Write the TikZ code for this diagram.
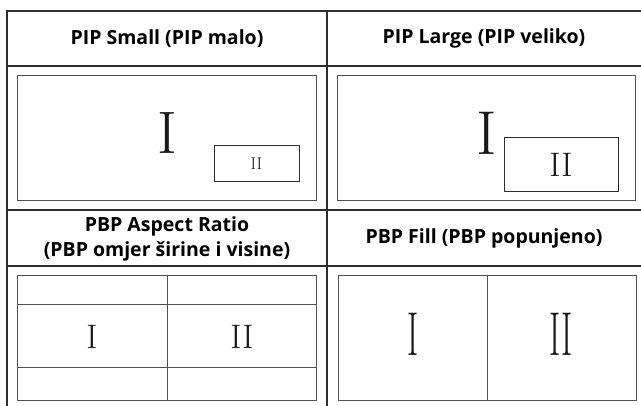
\documentclass[tikz,border=0pt]{standalone}
\usepackage{fontspec}
\setmainfont{Latin Modern Roman}
\newfontfamily\hdfont{Open Sans}
\definecolor{gridc}{HTML}{2E2E2E}
\definecolor{framec}{HTML}{505050}
\begin{document}
\begin{tikzpicture}[x=1pt,y=-1pt,
  grid/.style={draw=gridc,line width=2pt},
  frame/.style={draw=framec,line width=1pt},
  subbox/.style={draw=gridc,line width=1pt},
  head/.style={font=\hdfont\bfseries\fontsize{19.5}{25}\selectfont,align=center,text=black},
  numeral/.style={font=\fontsize{#1}{#1}\selectfont,inner sep=0pt,text=black!90}]
\useasboundingbox (0,0) rectangle (641,406);
% table grid
\draw[grid] (7,11) -- (641,11);
\draw[grid] (7,66) -- (641,66);
\draw[grid] (7,210) -- (641,210);
\draw[grid] (7,266) -- (641,266);
\draw[grid] (7,10) -- (7,406);
\draw[grid] (327,10) -- (327,406);
% headers
\node[head] (h1) at (167,38.5) {PIP Small (PIP malo)};
\node[head] (h2) at (484,38.5) {PIP Large (PIP veliko)};
\node[head] (h3) at (167,238.5) {PBP Aspect Ratio\\(PBP omjer širine i visine)};
\node[head] (h4) at (484,238) {PBP Fill (PBP popunjeno)};
% PIP small
\draw[frame] (17,76) rectangle (316,201);
\node[numeral=60] (s1) at (167,133) {I};
\draw[subbox] (214,146) rectangle (299,182);
\node[numeral=17] (s2) at (256.5,164) {II};
% PIP large
\draw[frame] (337,76) rectangle (635,201);
\node[numeral=62] (l1) at (487,133) {I};
\draw[subbox] (504,138) rectangle (618,192);
\node[numeral=34] (l2) at (561,165) {II};
% PBP aspect
\draw[frame] (17,276) rectangle (316,401);
\draw[frame] (167,276) -- (167,401);
\draw[frame] (17,305) -- (316,305);
\draw[frame] (17,368) -- (316,368);
\node[numeral=34] (a1) at (92,337) {I};
\node[numeral=34] (a2) at (242,337) {II};
% PBP fill
\draw[frame] (338,276) rectangle (636,401);
\draw[frame] (487,276) -- (487,401);
\node[numeral=62,xscale=0.55] (f1) at (413,334) {I};
\node[numeral=62,xscale=0.55] (f2) at (561,334) {II};
\end{tikzpicture}
\end{document}
